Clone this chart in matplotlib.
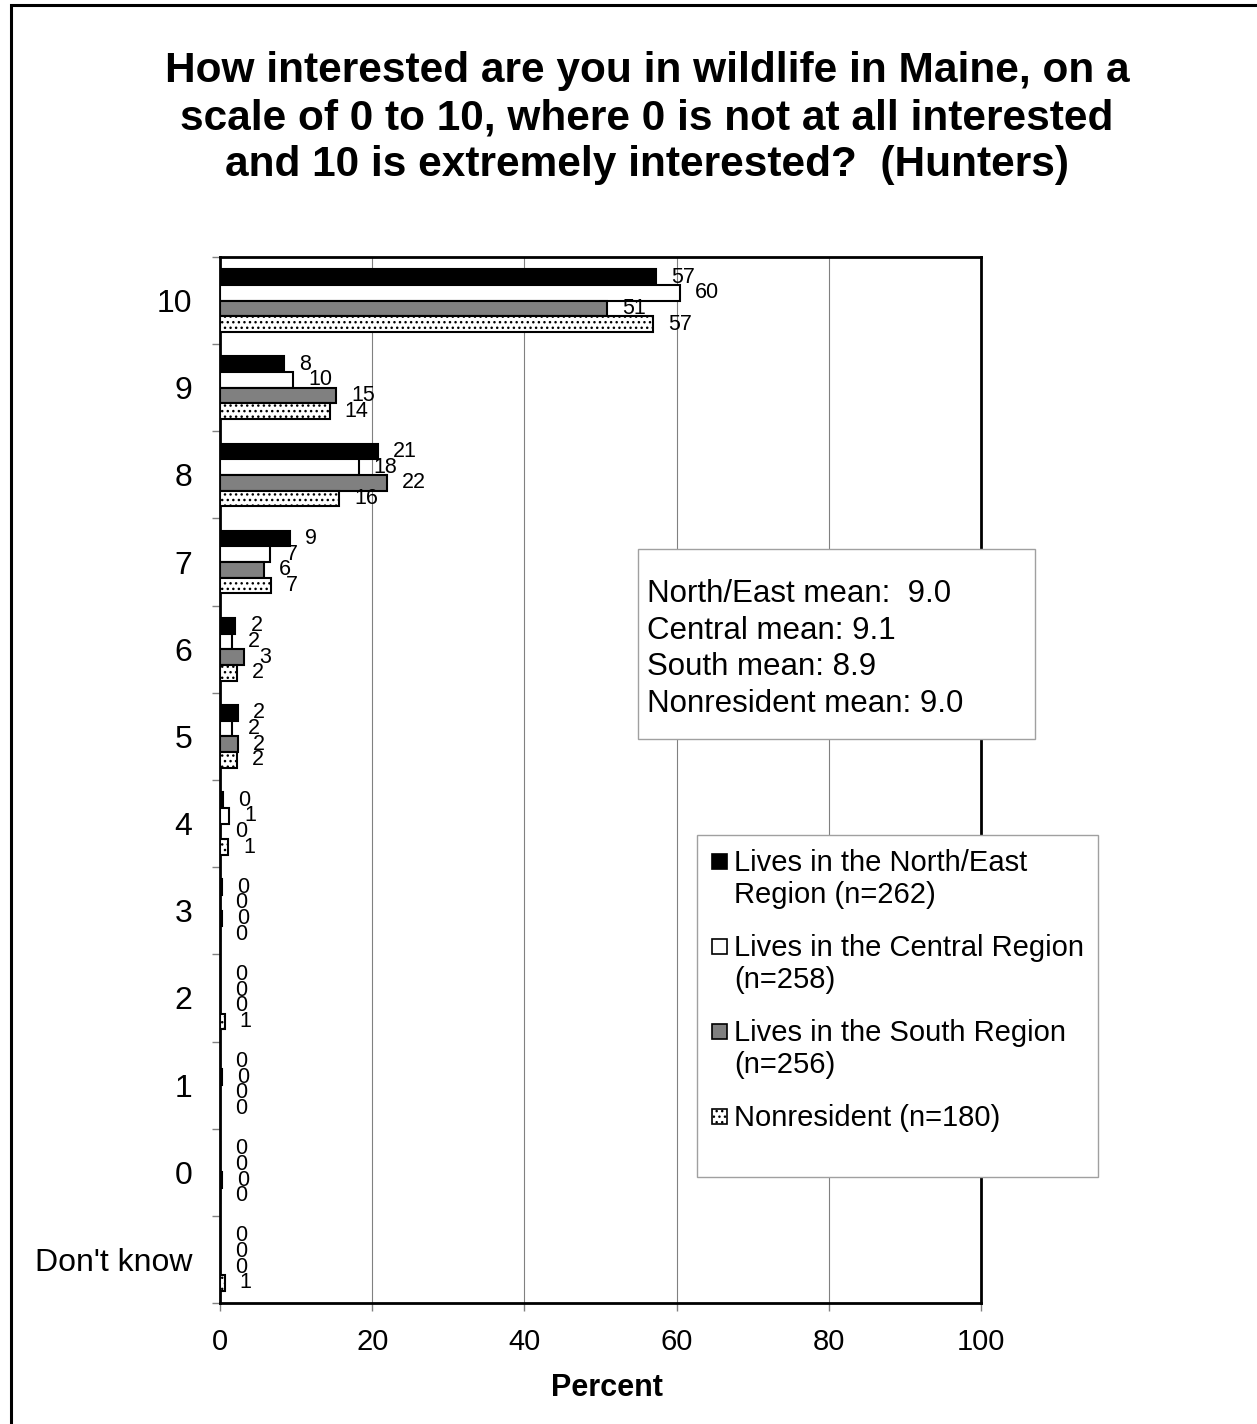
import matplotlib.pyplot as plt
import numpy as np
from matplotlib.patches import Rectangle

plt.rcParams['font.family'] = ['Liberation Sans', 'DejaVu Sans']

categories = ["10", "9", "8", "7", "6", "5", "4", "3", "2", "1", "0", "Don't know"]
north_east = [57.3, 8.4, 20.7, 9.2, 2.0, 2.3, 0.4, 0.3, 0.0, 0.0, 0.0, 0.0]
central = [60.4, 9.6, 18.2, 6.6, 1.6, 1.6, 1.2, 0.0, 0.0, 0.3, 0.0, 0.0]
south = [50.8, 15.2, 21.9, 5.8, 3.1, 2.3, 0.0, 0.3, 0.0, 0.0, 0.3, 0.0]
nonresident = [56.9, 14.4, 15.6, 6.7, 2.2, 2.2, 1.1, 0.0, 0.6, 0.0, 0.0, 0.6]

series_labels = ["Lives in the North/East\nRegion (n=262)",
                 "Lives in the Central Region\n(n=258)",
                 "Lives in the South Region\n(n=256)",
                 "Nonresident (n=180)"]
mean_lines = ["North/East mean:  9.0", "Central mean: 9.1",
              "South mean: 8.9", "Nonresident mean: 9.0"]
title = ("How interested are you in wildlife in Maine, on a\n"
         "scale of 0 to 10, where 0 is not at all interested\n"
         "and 10 is extremely interested?  (Hunters)")

styles = [dict(color="black", hatch=None),
          dict(color="white", hatch=None),
          dict(color="#808080", hatch=None),
          dict(color="white", hatch="...")]

W, H = 1257, 1424
fig = plt.figure(figsize=(W / 100, H / 100), dpi=100)


def fx(x):
    return x / W


def fy(y):
    return 1 - y / H


ax = fig.add_axes([fx(220), fy(1303), 761 / W, 1046 / H])

y = np.arange(len(categories))
bh = 0.18
all_series = [north_east, central, south, nonresident]
for k, (vals, st) in enumerate(zip(all_series, styles)):
    pos = y + (k - 1.5) * bh
    ax.barh(pos, vals, height=bh, color=st["color"], edgecolor="black",
            linewidth=1.5, hatch=st["hatch"], zorder=3)
    for p, v in zip(pos, vals):
        ax.text(v + 2.0, p, f"{v:.0f}", ha="left", va="center", fontsize=15.5, zorder=4)

ax.set_xlim(0, 100)
ax.set_ylim(len(categories) - 0.5, -0.5)
ax.set_xticks([0, 20, 40, 60, 80, 100])
ax.set_yticks(y)
ax.set_yticklabels(categories)
ax.set_yticks(np.arange(len(categories) + 1) - 0.5, minor=True)
ax.tick_params(axis="y", which="major", length=0, pad=20, labelsize=23)
ax.tick_params(axis="y", which="minor", length=6, color="#808080", width=1)
ax.tick_params(axis="x", length=6, color="#808080", width=1, pad=12, labelsize=21)
ax.grid(axis="x", color="#808080", linewidth=0.8, zorder=0)
for s in ax.spines.values():
    s.set_linewidth(2)
    s.set_color("black")

ax.set_xlabel("Percent", fontsize=22, fontweight="bold", va="top")
ax.xaxis.set_label_coords((607 - 220) / 761, (1303 - 1373) / 1046)

fig.text(fx(647), fy(118), title, ha="center", va="center", fontsize=30.5,
         fontweight="bold", multialignment="center", linespacing=1.22)

# mean box
fig.patches.append(Rectangle((fx(638), fy(739)), 397 / W, 190 / H, transform=fig.transFigure,
                             facecolor="white", edgecolor="#a0a0a0", linewidth=1, zorder=5))
for i, line in enumerate(mean_lines):
    fig.text(fx(647), fy(602 + i * 36.7), line, ha="left", va="baseline", fontsize=22.5, zorder=6)

# legend box
fig.patches.append(Rectangle((fx(697), fy(1177)), 401 / W, 342 / H, transform=fig.transFigure,
                             facecolor="white", edgecolor="#a0a0a0", linewidth=1, zorder=5))
base = 871
for lab, st in zip(series_labels, styles):
    fig.patches.append(Rectangle((fx(712), fy(base - 2)), 15 / W, 15 / H, transform=fig.transFigure,
                                 facecolor=st["color"], edgecolor="black", linewidth=1.2,
                                 hatch=st["hatch"], zorder=6))
    for j, line in enumerate(lab.split("\n")):
        fig.text(fx(734), fy(base + j * 32), line, ha="left", va="baseline", fontsize=21, zorder=6)
    base += 85

# outer frame
fig.patches.append(Rectangle((fx(11), fy(H + 20)), (W + 20) / W, (H + 15) / H, transform=fig.transFigure,
                             facecolor="none", edgecolor="black", linewidth=2.2, zorder=10))

fig.savefig("out.png", dpi=100, facecolor="white")
